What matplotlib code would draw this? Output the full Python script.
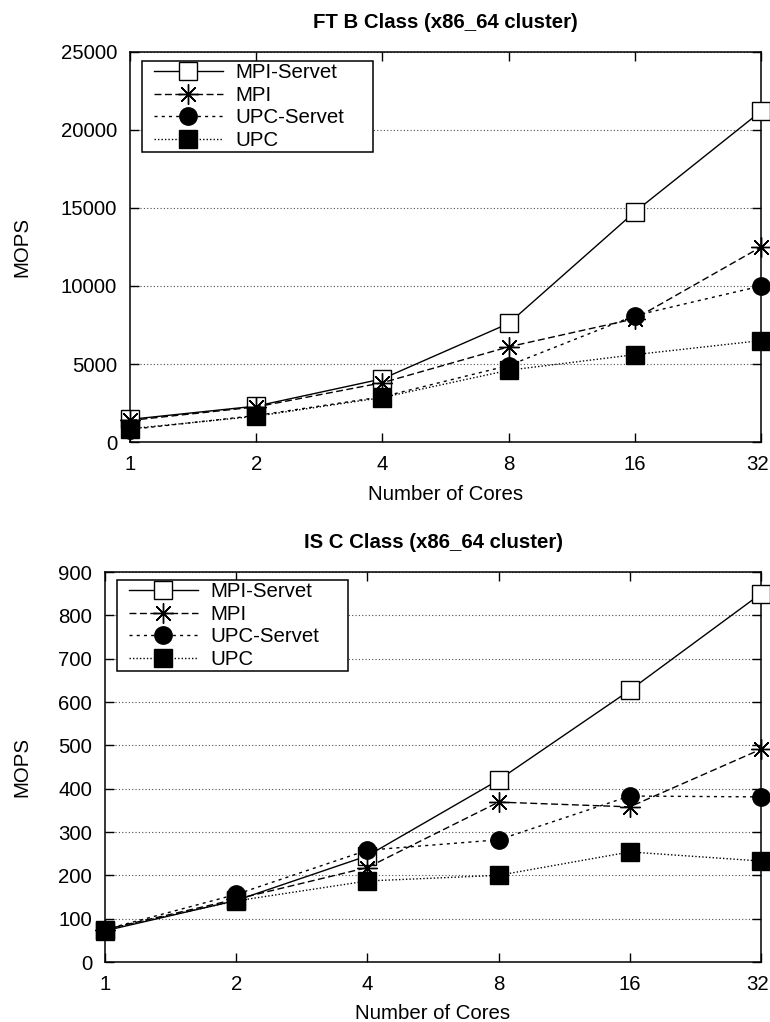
import matplotlib
matplotlib.use('Agg')
import matplotlib.pyplot as plt
from matplotlib.legend_handler import HandlerLine2D
from matplotlib.transforms import ScaledTranslation

plt.rcParams['font.family'] = ['Liberation Sans', 'DejaVu Sans']
plt.rcParams['font.size'] = 14.7

# Data
cores = [1, 2, 4, 8, 16, 32]
series_names = ['MPI-Servet', 'MPI', 'UPC-Servet', 'UPC']

ft_mpi_servet = [1450, 2300, 4050, 7600, 14750, 21200]
ft_mpi = [1380, 2250, 3800, 6100, 7900, 12500]
ft_upc_servet = [800, 1700, 2900, 4900, 8100, 10000]
ft_upc = [850, 1650, 2850, 4600, 5600, 6500]

is_mpi_servet = [72, 142, 245, 420, 627, 850]
is_mpi = [75, 145, 218, 369, 358, 491]
is_upc_servet = [75, 156, 258, 282, 383, 381]
is_upc = [75, 141, 187, 200, 254, 233]

ft_yticks = [0, 5000, 10000, 15000, 20000, 25000]
is_yticks = [0, 100, 200, 300, 400, 500, 600, 700, 800, 900]

styles = [
    dict(ls='-', marker='s', ms=13.5, mfc='white', mec='black', mew=1.0),
    dict(ls=(0, (5, 2.5)), marker=(8, 2, 0), ms=14.5, mfc='black', mec='black', mew=1.0),
    dict(ls=(0, (2.2, 3)), marker='o', ms=12.5, mfc='black', mec='black', mew=1.0),
    dict(ls=(0, (1, 1.5)), marker='s', ms=13.5, mfc='black', mec='black', mew=1.0),
]

W, H = 770, 1022
fig = plt.figure(figsize=(W / 100, H / 100), dpi=100)


def make_panel(rect, title, series, yticks, leg_bbox):
    ax = fig.add_axes(rect)
    for name, vals, st in zip(series_names, series, styles):
        ax.plot(cores, vals, color='black', lw=1.0, label=name, clip_on=False,
                zorder=3, **st)
    ax.set_xscale('log', base=2)
    ax.set_xlim(cores[0], cores[-1])
    ax.set_xticks(cores)
    ax.set_xticklabels([str(c) for c in cores])
    ax.minorticks_off()
    ax.set_ylim(yticks[0], yticks[-1])
    ax.set_yticks(yticks)
    ax.yaxis.grid(True, linestyle=(0, (1, 2)), color='0.3', lw=0.8)
    ax.set_axisbelow(True)
    ax.tick_params(direction='in', length=6.5, width=1.0, pad=9.3,
                   top=True, right=True, labelsize=14.7)
    for sp in ax.spines.values():
        sp.set_linewidth(1.1)
    ax.set_title(title, fontweight='bold', fontsize=14.7, pad=17)
    leg = ax.legend(loc='upper left', bbox_to_anchor=leg_bbox, mode='expand',
                    borderaxespad=0, borderpad=0.1, labelspacing=0.18,
                    handlelength=3.85, handletextpad=0.64, fancybox=False,
                    framealpha=1, edgecolor='black', fontsize=14.7,
                    handler_map={plt.Line2D: HandlerLine2D(xpad=0.5)})
    leg.get_frame().set_linewidth(1.1)
    leg.set_zorder(5)
    # last x tick label sits a little left of its tick, as in the original
    last = ax.get_xticklabels()[-1]
    last.set_transform(last.get_transform()
                       + ScaledTranslation(-4 / 100, 0, fig.dpi_scale_trans))
    return ax


ax1 = make_panel([130 / W, 1 - 442 / H, 631 / W, 390 / H],
                 'FT B Class (x86_64 cluster)',
                 [ft_mpi_servet, ft_mpi, ft_upc_servet, ft_upc], ft_yticks,
                 (12 / 631, 0.5, 231 / 631, 1 - 9 / 390 - 0.5))
ax2 = make_panel([105 / W, 1 - 962 / H, 656 / W, 390 / H],
                 'IS C Class (x86_64 cluster)',
                 [is_mpi_servet, is_mpi, is_upc_servet, is_upc], is_yticks,
                 (12 / 656, 0.5, 231 / 656, 1 - 8 / 390 - 0.5))

for ax, ylab_y, xlab_y in [(ax1, 247, 495), (ax2, 767, 1013)]:
    ax.set_ylabel('MOPS', va='center', ha='center', rotation_mode='default')
    ax.yaxis.set_label_coords(22 / W, 1 - ylab_y / H, transform=fig.transFigure)
    ax.set_xlabel('Number of Cores', va='center', ha='center')
    bb = ax.get_position()
    ax.xaxis.set_label_coords((bb.x0 + bb.x1) / 2, 1 - xlab_y / H,
                              transform=fig.transFigure)

fig.savefig('out.png', dpi=100)
